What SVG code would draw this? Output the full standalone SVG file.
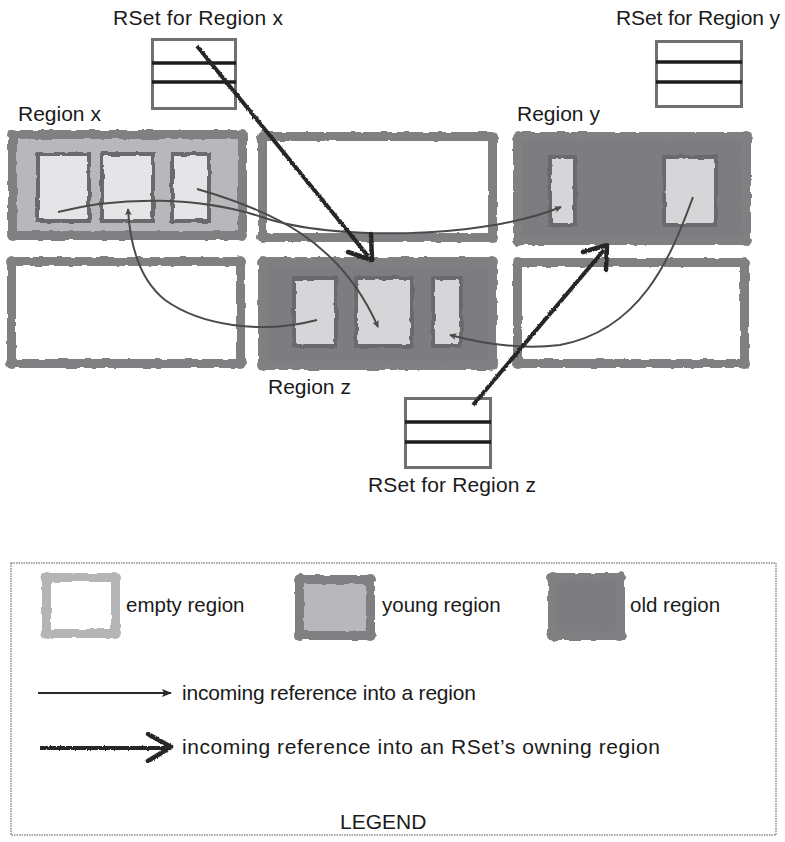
<svg xmlns="http://www.w3.org/2000/svg" width="785" height="842" viewBox="0 0 785 842">
<defs>
<filter id="rough" x="-5%" y="-5%" width="110%" height="110%">
<feTurbulence type="fractalNoise" baseFrequency="0.09" numOctaves="2" seed="4" result="n"/>
<feDisplacementMap in="SourceGraphic" in2="n" scale="3.5" xChannelSelector="R" yChannelSelector="G"/>
</filter>
<filter id="grain" x="-5%" y="-5%" width="110%" height="110%">
<feTurbulence type="fractalNoise" baseFrequency="0.5" numOctaves="1" seed="2" result="n"/>
<feDisplacementMap in="SourceGraphic" in2="n" scale="2.5" xChannelSelector="R" yChannelSelector="G"/>
</filter>
<marker id="thin" viewBox="0 0 10 10" refX="9" refY="5" markerWidth="7" markerHeight="7" orient="auto" markerUnits="userSpaceOnUse">
<path d="M0,0 L10,5 L0,10 L2.5,5 Z" fill="#4a4a4c"/>
</marker>
<marker id="thinL" viewBox="0 0 10 10" refX="9" refY="5" markerWidth="10" markerHeight="10" orient="auto" markerUnits="userSpaceOnUse">
<path d="M0,1 L10,5 L0,9 L2,5 Z" fill="#2a2a2a"/>
</marker>
</defs>
<style>
text{font-family:"Liberation Sans",Arial,sans-serif;font-size:21px;fill:#1a1a1a}
.lt{font-size:20.5px}
.reg{stroke:#808083;stroke-width:9;stroke-linejoin:round}
.empty{fill:#ffffff}
.young{fill:#b8b8bb}
.old{fill:#7d7d80}
.cor{fill:#808083}
.box{stroke:#6a6a6d;stroke-width:4}
.by{fill:#e5e5e7}
.bo{fill:#d6d6d8}
.rset{fill:#ffffff;stroke:#707073;stroke-width:3}
.rline{stroke:#1c1c1c;stroke-width:3.5}
.conn{fill:none;stroke:#4a4a4c;stroke-width:2}
.thick{fill:none;stroke:#262626;stroke-width:4}
.chev{fill:none;stroke:#262626;stroke-width:4.5;stroke-linecap:round;stroke-linejoin:round}
</style>

<g id="region-x" filter="url(#rough)">
<rect class="reg young" x="12.5" y="134.5" width="230" height="101"/>
<circle class="cor" cx="13" cy="135" r="6"/><circle class="cor" cx="242" cy="135" r="6"/><circle class="cor" cx="13" cy="235" r="6"/><circle class="cor" cx="242" cy="235" r="6"/>
<rect class="box by" x="38" y="154" width="51" height="67"/>
<rect class="box by" x="102" y="154" width="51" height="67"/>
<rect class="box by" x="172" y="154" width="37" height="67"/>
</g>
<g id="region-top-mid" filter="url(#rough)">
<rect class="reg empty" x="262.5" y="136.5" width="230" height="101"/>
<circle class="cor" cx="263" cy="137" r="6"/><circle class="cor" cx="492" cy="137" r="6"/><circle class="cor" cx="263" cy="237" r="6"/><circle class="cor" cx="492" cy="237" r="6"/>
</g>
<g id="region-y" filter="url(#rough)">
<rect class="reg old" x="517.5" y="136.5" width="229" height="104"/>
<circle class="cor" cx="518" cy="137" r="6"/><circle class="cor" cx="746" cy="137" r="6"/><circle class="cor" cx="518" cy="240" r="6"/><circle class="cor" cx="746" cy="240" r="6"/>
<rect class="box bo" x="550" y="157" width="25" height="68"/>
<rect class="box bo" x="664" y="157" width="52" height="68"/>
</g>
<g id="region-bottom-left" filter="url(#rough)">
<rect class="reg empty" x="11.5" y="261.5" width="229" height="102"/>
<circle class="cor" cx="12" cy="262" r="6"/><circle class="cor" cx="240" cy="262" r="6"/><circle class="cor" cx="12" cy="363" r="6"/><circle class="cor" cx="240" cy="363" r="6"/>
</g>
<g id="region-z" filter="url(#rough)">
<rect class="reg old" x="262.5" y="261.5" width="230" height="104"/>
<circle class="cor" cx="263" cy="262" r="6"/><circle class="cor" cx="492" cy="262" r="6"/><circle class="cor" cx="263" cy="365" r="6"/><circle class="cor" cx="492" cy="365" r="6"/>
<rect class="box bo" x="294" y="278" width="42" height="68"/>
<rect class="box bo" x="356" y="278" width="56" height="68"/>
<rect class="box bo" x="433" y="278" width="28" height="68"/>
</g>
<g id="region-bottom-right" filter="url(#rough)">
<rect class="reg empty" x="517.5" y="262.5" width="227" height="101"/>
<circle class="cor" cx="518" cy="263" r="6"/><circle class="cor" cx="744" cy="263" r="6"/><circle class="cor" cx="518" cy="363" r="6"/><circle class="cor" cx="744" cy="363" r="6"/>
</g>

<g id="labels">
<text x="18" y="121">Region x</text>
<text x="517" y="121">Region y</text>
<text x="268" y="394">Region z</text>
</g>

<g id="rset-x">
<text x="113" y="25" textLength="170">RSet for Region x</text>
<rect class="rset" x="152.5" y="39.5" width="83" height="69"/>
<line class="rline" x1="152" y1="63" x2="236" y2="63"/>
<line class="rline" x1="152" y1="82" x2="236" y2="82"/>
</g>
<g id="rset-y">
<text x="616" y="25" textLength="164">RSet for Region y</text>
<rect class="rset" x="656.5" y="41.5" width="85" height="65"/>
<line class="rline" x1="656" y1="62" x2="742" y2="62"/>
<line class="rline" x1="656" y1="82" x2="742" y2="82"/>
</g>
<g id="rset-z">
<text x="368" y="492" textLength="168">RSet for Region z</text>
<rect class="rset" x="405.5" y="398.5" width="85" height="69"/>
<line class="rline" x1="405" y1="422" x2="491" y2="422"/>
<line class="rline" x1="405" y1="442" x2="491" y2="442"/>
</g>

<g id="connectors">
<path class="conn" d="M197,189 C270,210 340,240 378,327" marker-end="url(#thin)"/>
<path class="conn" d="M58,212 C120,196 200,196 265,218 C330,240 480,240 561,207" marker-end="url(#thin)"/>
<path class="conn" d="M317,320 C260,335 200,325 165,300 C140,280 130,245 128,209" marker-end="url(#thin)"/>
<path class="conn" d="M693,197 C670,260 640,330 560,345 C520,350 480,343 450,335" marker-end="url(#thin)"/>
<g filter="url(#grain)">
<path class="thick" d="M197,46 L368,256"/>
<polyline class="chev" points="348,252 372,260 371,234"/>
<path class="thick" d="M473,405 L604,250"/>
<polyline class="chev" points="583,252 607,245 606,270"/>
</g>
</g>

<g id="legend">
<rect x="11" y="563" width="765" height="272" fill="none" stroke="#8a8a8a" stroke-width="1.5" stroke-dasharray="1.5 1"/>
<g id="legend-empty" filter="url(#rough)">
<rect x="46.5" y="577.5" width="69" height="56" fill="#ffffff" stroke="#b5b5b7" stroke-width="9" stroke-linejoin="round"/>
<circle cx="47" cy="578" r="6" fill="#b5b5b7"/><circle cx="115" cy="578" r="6" fill="#b5b5b7"/><circle cx="47" cy="633" r="6" fill="#b5b5b7"/><circle cx="115" cy="633" r="6" fill="#b5b5b7"/>
</g>
<text class="lt" x="126" y="612">empty region</text>
<g id="legend-young" filter="url(#rough)">
<rect class="reg young" x="299.5" y="579.5" width="71" height="56"/>
<circle class="cor" cx="300" cy="580" r="6"/><circle class="cor" cx="370" cy="580" r="6"/><circle class="cor" cx="300" cy="635" r="6"/><circle class="cor" cx="370" cy="635" r="6"/>
</g>
<text class="lt" x="382" y="612">young region</text>
<g id="legend-old" filter="url(#rough)">
<rect class="reg old" x="552.5" y="577.5" width="68" height="58"/>
<circle class="cor" cx="553" cy="578" r="6"/><circle class="cor" cx="620" cy="578" r="6"/><circle class="cor" cx="553" cy="635" r="6"/><circle class="cor" cx="620" cy="635" r="6"/>
</g>
<text class="lt" x="630" y="612">old region</text>
<line x1="38" y1="693" x2="171" y2="693" stroke="#2a2a2a" stroke-width="1.8" marker-end="url(#thinL)"/>
<text x="182" y="700" textLength="294">incoming reference into a region</text>
<g filter="url(#grain)">
<path class="thick" d="M40,748 L166,748"/>
<polyline class="chev" points="148,734 171,747 148,761"/>
</g>
<text x="182" y="754" textLength="478">incoming reference into an RSet’s owning region</text>
<text x="340" y="829">LEGEND</text>
</g>
</svg>
